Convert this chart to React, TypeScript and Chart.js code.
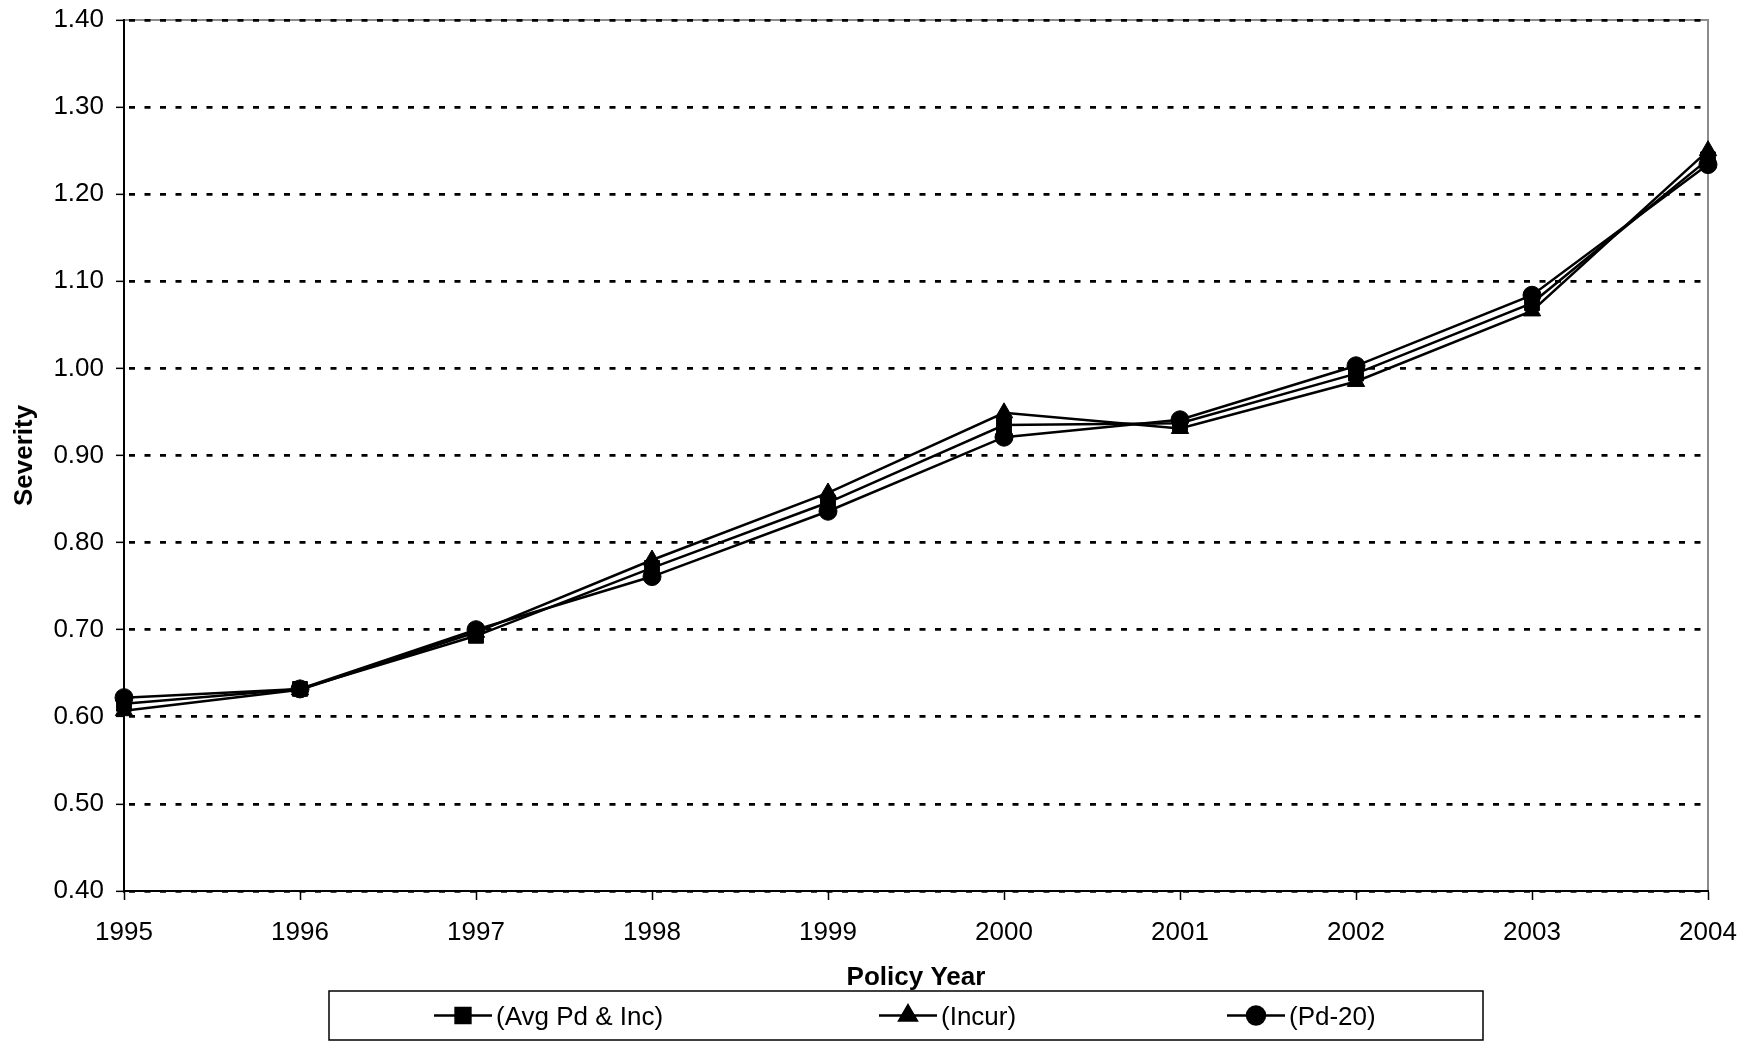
import React, { useEffect, useRef } from 'react';
import { Chart, registerables } from 'chart.js';
import { drawPoint } from 'chart.js/helpers';

Chart.register(...registerables);

const years = ['1995', '1996', '1997', '1998', '1999', '2000', '2001', '2002', '2003', '2004'];
const avgPdInc = [0.615, 0.632, 0.693, 0.771, 0.846, 0.935, 0.937, 0.994, 1.075, 1.240];
const incur = [0.607, 0.631, 0.697, 0.780, 0.857, 0.949, 0.931, 0.985, 1.066, 1.250];
const pd20 = [0.622, 0.632, 0.700, 0.761, 0.836, 0.921, 0.941, 1.003, 1.084, 1.234];
const seriesNames = ['(Avg Pd & Inc)', '(Incur)', '(Pd-20)'];
const yMin = 0.4;
const yMax = 1.4;
const yStep = 0.1;
const xTitle = 'Policy Year';
const yTitle = 'Severity';

const FONT = "'Liberation Sans', Arial, sans-serif";

const plotBorder = {
  id: 'plotBorder',
  beforeDraw(chart: any) {
    const { ctx, chartArea } = chart;
    ctx.save();
    ctx.strokeStyle = '#8c8c8c';
    ctx.lineWidth = 2;
    ctx.strokeRect(chartArea.left, chartArea.top, chartArea.right - chartArea.left, chartArea.bottom - chartArea.top);
    ctx.restore();
  },
};

const legendLayout = {
  box: { x: 329, y: 991, w: 1154, h: 49 },
  markers: [463, 908, 1256],
  half: 29,
};

const boxLegend = {
  id: 'boxLegend',
  afterDraw(chart: any) {
    const { ctx } = chart;
    const { box, markers, half } = legendLayout;
    ctx.save();
    ctx.strokeStyle = '#000';
    ctx.lineWidth = 1.5;
    ctx.strokeRect(box.x, box.y, box.w, box.h);
    const cy = box.y + box.h / 2;
    chart.data.datasets.forEach((ds: any, i: number) => {
      const mx = markers[i];
      ctx.strokeStyle = '#000';
      ctx.lineWidth = 2.5;
      ctx.beginPath();
      ctx.moveTo(mx - half, cy);
      ctx.lineTo(mx + half, cy);
      ctx.stroke();
      ctx.fillStyle = '#000';
      drawPoint(ctx, { pointStyle: ds.pointStyle, radius: ds.pointRadius, rotation: 0, borderWidth: 1 }, mx, cy);
      ctx.font = `26px ${FONT}`;
      ctx.textBaseline = 'middle';
      ctx.textAlign = 'left';
      ctx.fillStyle = '#000';
      ctx.fillText(ds.label, mx + half + 4, cy + 2);
    });
    ctx.restore();
  },
};

export default function App() {
  const ref = useRef<HTMLCanvasElement | null>(null);
  useEffect(() => {
    document.body.style.margin = '0';
    const ctx = ref.current!.getContext('2d')!;
    const mk = (label: string, data: number[], style: string, r: number) => ({
      label,
      data,
      borderColor: '#000',
      backgroundColor: '#000',
      borderWidth: 2.5,
      pointStyle: style,
      pointRadius: r,
      pointBackgroundColor: '#000',
      pointBorderColor: '#000',
      pointBorderWidth: 1,
      tension: 0,
      fill: false,
    });
    const chart = new Chart(ctx, {
      type: 'line',
      data: {
        labels: years,
        datasets: [
          mk(seriesNames[0], avgPdInc, 'rect', 10.5),
          mk(seriesNames[1], incur, 'triangle', 10),
          mk(seriesNames[2], pd20, 'circle', 9),
        ],
      },
      options: {
        animation: false,
        responsive: true,
        maintainAspectRatio: false,
        layout: { padding: { top: 20, right: 48, bottom: 49, left: 0 } },
        plugins: { legend: { display: false }, tooltip: { enabled: false } },
        events: [],
        scales: {
          x: {
            type: 'category',
            offset: false,
            grid: { drawOnChartArea: false, drawTicks: true, tickLength: 9, tickColor: '#000', tickWidth: 1.5 },
            border: { color: '#000', width: 2 },
            ticks: { color: '#000', font: { family: FONT, size: 26 }, padding: 17, maxRotation: 0, autoSkip: false },
            title: { display: true, text: xTitle, color: '#000', font: { family: FONT, size: 26, weight: 'bold' }, padding: { top: 0, bottom: 0 } },
            afterFit(scale: any) { scale.height = 102; },
          },
          y: {
            min: yMin,
            max: yMax,
            grid: { color: '#000', lineWidth: 2.7, drawTicks: true, tickLength: 8, tickColor: '#000', tickWidth: 1.5, tickBorderDash: [] },
            border: { color: '#000', width: 2, dash: [6, 9.5], dashOffset: -4 },
            ticks: {
              stepSize: yStep,
              color: '#000',
              font: { family: FONT, size: 26 },
              padding: 12,
              callback: (v: any) => Number(v).toFixed(2),
            },
            title: { display: true, text: yTitle, color: '#000', font: { family: FONT, size: 26, weight: 'bold' }, padding: { top: 9, bottom: 0 } },
            afterFit(scale: any) {
              scale.width = 124;
              scale.paddingTop = 0;
              scale.paddingBottom = 0;
            },
          },
        },
      },
      plugins: [plotBorder, boxLegend],
    } as any);
    return () => chart.destroy();
  }, []);
  return (
    <div style={{ position: 'absolute', left: 0, top: 0, width: 1756, height: 1042, background: '#fff' }}>
      <canvas ref={ref} />
    </div>
  );
}
